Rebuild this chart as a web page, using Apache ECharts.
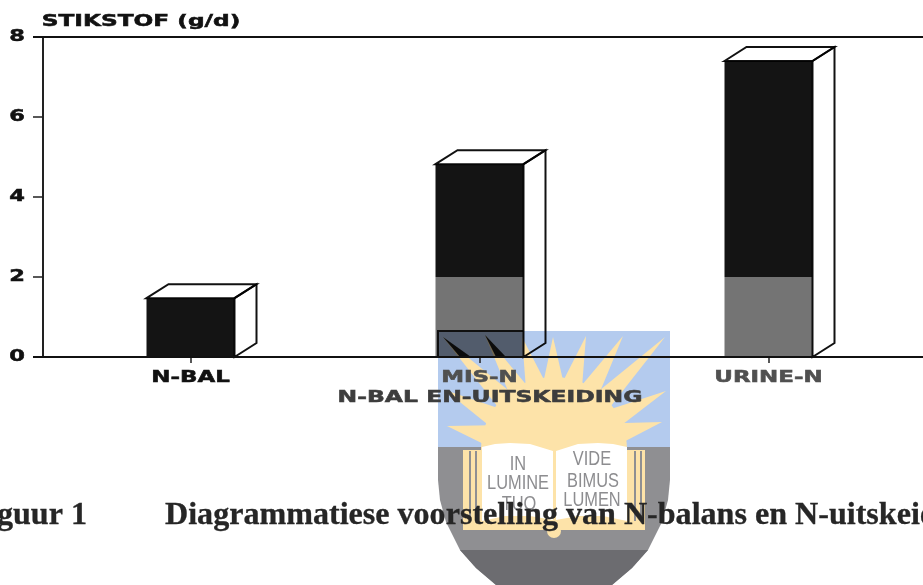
<!DOCTYPE html>
<html><head><meta charset="utf-8">
<style>html,body{margin:0;padding:0;background:#fff}#c{width:923px;height:585px}</style>
<script src="https://cdn.jsdelivr.net/npm/echarts@6/dist/echarts.min.js"></script>
</head><body><div id="c"></div>
<script>
const categories = ['N-BAL', 'MIS-N', 'URINE-N'];
const lowerValues = [0, 2, 2];
const upperValues = [1.47, 2.82, 5.4];
const yTicks = [0, 2, 4, 6, 8];
const yAxisTitle = 'STIKSTOF (g/d)';
const xAxisTitle = 'N-BAL EN-UITSKEIDING';
const captionLabel = 'Figuur 1';
const captionText = 'Diagrammatiese voorstelling van N-balans en N-uitskeiding';

const labelFont = 'bold 15px "DejaVu Sans"';
const BLUE = '#b4cbee', SUN = '#fde3a9', GREY = '#8f8f92', DARK = '#6c6c70', INK = '#141414';

// ---- watermark crest (decoration behind the chart) ----
const shield = [[438,331],[670,331],[670,480],[668,500],[662,522],[648,550],[632,568],[612,585],[496,585],[476,568],[460,550],[446,522],[440,500],[438,480]];
const sc = [554, 450];
const rayTips = [[447,426],[445,390],[443,337],[485,335],[522,337],[553,337],[586,336],[623,336],[665,337],[666,391],[662,422]];
function ray(t) {
  const a = Math.atan2(t[1]-sc[1], t[0]-sc[0]), d = 0.15, r = 68;
  return [t, [sc[0]+r*Math.cos(a-d), sc[1]+r*Math.sin(a-d)], [sc[0]+r*Math.cos(a+d), sc[1]+r*Math.sin(a+d)]];
}
const poly = (points, fill) => ({type:'polygon', silent:true, z:0, shape:{points}, style:{fill}});
const rect = (x,y,width,height,fill) => ({type:'rect', silent:true, z:0, shape:{x,y,width,height}, style:{fill}});
const crestText = (text,x,y,sx) => ({type:'text', silent:true, z:0, x, y, scaleX:sx,
  style:{text, fill:'#8d8d90', font:'20px "Liberation Sans"', textAlign:'center', textVerticalAlign:'middle'}});
const overlayText = (text,x,y,sx,fill,font,align,sw) => ({type:'text', silent:true, z:10, x, y, scaleX:sx,
  style:{text, fill, font:font||labelFont, textAlign:align||'center', textVerticalAlign:'middle', stroke:fill, lineWidth:sw===undefined?0.5:sw}});

const graphics = [
  poly(shield, GREY),
  poly([[460,550],[648,550],[632,568],[612,585],[496,585],[476,568]], DARK),
  rect(438,331,232,116,BLUE),
  ...rayTips.map(t => poly(ray(t), SUN)),
  poly([[443,337],[471,357],[460,357]], '#1a1a1a'),
  poly([[485,335],[506,357],[496,357]], '#1a1a1a'),
  {type:'polyline', silent:true, z:0, shape:{points:[[438,357],[438,331],[523,331]]}, style:{stroke:'#222', lineWidth:2, fill:'none'}},
  {type:'sector', silent:true, z:0, shape:{cx:sc[0],cy:sc[1],r:73,startAngle:Math.PI,endAngle:2*Math.PI}, style:{fill:SUN}},
  rect(481,447,146,6,SUN),
  rect(463,450,182,80,SUN),
  rect(469,451,2,70,GREY), rect(475,451,2,70,GREY),
  rect(634,451,2,70,GREY), rect(640,451,2,70,GREY),
  poly([[482,447],[495,444],[510,443],[530,444],[553,451],[553,520],[530,516],[505,516],[482,521]], '#ffffff'),
  poly([[556,451],[578,444],[598,443],[613,444],[627,447],[627,521],[603,516],[578,516],[556,520]], '#ffffff'),
  {type:'circle', silent:true, z:0, shape:{cx:554,cy:531,r:7}, style:{fill:SUN}},
  crestText('IN',518,464,0.82), crestText('LUMINE',518,483,0.82), crestText('TUO',519,504,0.82),
  crestText('VIDE',592,459,0.82), crestText('BIMUS',593,481,0.82), crestText('LUMEN',592,500,0.82),
  overlayText(yAxisTitle,141,22,1.55,'#111'),
  overlayText(xAxisTitle,490,398,1.565,'#3d3d3d'),
  overlayText(captionLabel,87,516,1.035,'#262626','bold 31px "Liberation Serif"','right',0.3),
  overlayText(captionText,165,516,1.035,'#262626','bold 31px "Liberation Serif"','left',0.3)
];

// ---- chart ----
const BAR_W = 88, DX = 22, DY = 14;
function renderBar(params, api) {
  const i = api.value(0), low = api.value(1), up = api.value(2);
  const c = api.coord([i, 0]), xl = c[0]-BAR_W/2, xr = c[0]+BAR_W/2, y0 = c[1];
  const yMid = api.coord([i, low])[1], yTop = api.coord([i, low+up])[1];
  const line = {stroke:'#111', lineWidth:2, fill:'none'};
  const children = [];
  if (low > 0) children.push({type:'rect', shape:{x:xl,y:yMid,width:BAR_W,height:y0-yMid}, style:{fill:'#747474'}});
  children.push({type:'rect', shape:{x:xl,y:yTop,width:BAR_W,height:yMid-yTop}, style:{fill:INK}});
  children.push({type:'polygon', shape:{points:[[xl,yTop],[xl+DX,yTop-DY],[xr+DX,yTop-DY],[xr,yTop]]}, style:line});
  children.push({type:'polygon', shape:{points:[[xr,yTop],[xr+DX,yTop-DY],[xr+DX,y0-DY],[xr,y0]]}, style:line});
  return {type:'group', children};
}
function renderCatLabel(params, api) {
  const i = api.value(0), c = api.coord([i, 0]);
  const col = i===0?'#111':'#505050';
  return {type:'text', x:c[0], y:c[1]+21, scaleX:1.53,
    style:{text:categories[i], font:labelFont, fill:col, stroke:col, lineWidth:0.5, textAlign:'center', textVerticalAlign:'middle'}};
}
function renderYLabel(params, api) {
  const v = api.value(0), c = api.coord([0, v]);
  return {type:'text', x:17, y:c[1], scaleX:1.5,
    style:{text:String(v), font:labelFont, fill:'#111', stroke:'#111', lineWidth:0.5, textAlign:'center', textVerticalAlign:'middle'}};
}
function renderRule(params, api) {
  const y = api.coord([0, api.value(0)])[1];
  return {type:'line', shape:{x1:33,y1:y,x2:923,y2:y}, style:{stroke:'#111', lineWidth:2}};
}

const chart = echarts.init(document.getElementById('c'), null, {renderer:'canvas'});
chart.setOption({
  animation:false,
  backgroundColor:'#ffffff',
  grid:{left:46, top:37, width:867, height:320},
  xAxis:{type:'category', data:categories, boundaryGap:true,
    axisLine:{show:false}, axisTick:{show:true, alignWithLabel:true, length:6, lineStyle:{color:'#222',width:1.5}},
    axisLabel:{show:false}, splitLine:{show:false}},
  yAxis:{type:'value', min:0, max:8, interval:2, offset:3,
    axisLine:{show:true, lineStyle:{color:'#222',width:2}},
    axisTick:{show:true, length:10, lineStyle:{color:'#222',width:1.5}},
    axisLabel:{show:false}, splitLine:{show:false}},
  graphic:{elements:graphics},
  series:[
    {name:'Stikstof', type:'custom', clip:false, renderItem:renderBar, z:3, blendMode:'multiply',
      encode:{x:0,y:2}, data:categories.map((c,i)=>[i,lowerValues[i],upperValues[i]])},
    {name:'Rules', type:'custom', clip:false, renderItem:renderRule, z:4,
      encode:{y:0}, data:[[0],[8]]},
    {name:'Category labels', type:'custom', clip:false, renderItem:renderCatLabel, z:5,
      encode:{x:0}, data:categories.map((c,i)=>[i])},
    {name:'Value labels', type:'custom', clip:false, renderItem:renderYLabel, z:5,
      encode:{y:0}, data:yTicks.map(v=>[v])}
  ]
});
</script></body></html>
